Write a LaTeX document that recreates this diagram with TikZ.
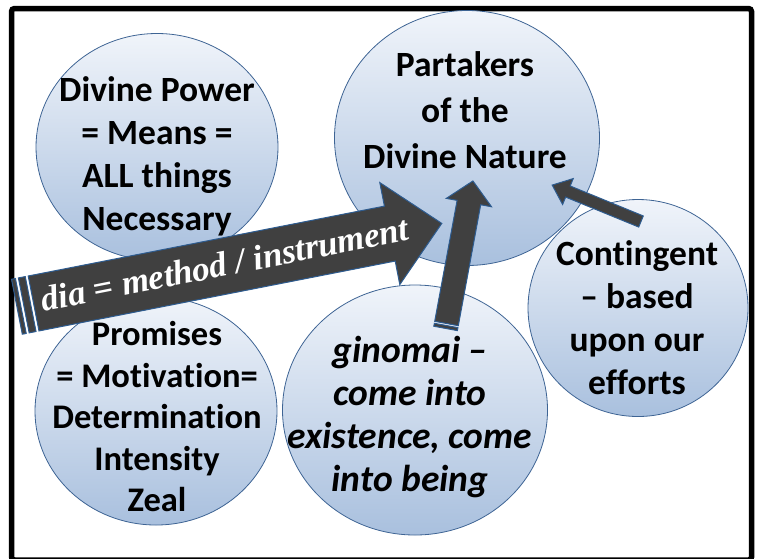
\documentclass[tikz,border=0pt]{standalone}
\usepackage{fontspec}
\setmainfont[Ligatures={TeX,NoCommon}]{Carlito}
\newfontfamily\serifit{Liberation Serif}
\usetikzlibrary{shapes.geometric}
\definecolor{bubbletop}{HTML}{F0F4FA}
\definecolor{bubblebot}{HTML}{A9C0DE}
\definecolor{bubbleline}{HTML}{3E6494}
\definecolor{arrowfill}{HTML}{404040}
\definecolor{arrowline}{HTML}{2E5C90}
\tikzset{
  bubble/.style  = {ellipse, draw=bubbleline, line width=0.8pt, inner sep=0pt,
                    top color=bubbletop, bottom color=bubblebot},
  btext/.style   = {font=\bfseries\fontsize{35.5}{43}\selectfont, align=center},
  diatext/.style = {font=\serifit\bfseries\itshape\fontsize{35}{40}\selectfont, text=white},
  barrow/.style  = {fill=arrowfill, draw=arrowline, line width=1pt, line join=miter},
}

\begin{document}
\begin{tikzpicture}[x=1pt,y=-1pt]
  \useasboundingbox (0,0) rectangle (759,558);
  \clip (0,0) rectangle (759,558);
  \draw[line width=5.5pt, rounded corners=3pt] (11.5,8.5) rectangle (751.5,560);

  \node[bubble, minimum width=242pt, minimum height=227pt] (power) at (157,147) {};
  \node[bubble, minimum width=265pt, minimum height=255pt] (nature) at (467,138) {};
  \node[bubble, minimum width=242pt, minimum height=228pt] (promise) at (156,411) {};
  \node[bubble, minimum width=265pt, minimum height=250pt] (ginomai) at (415,410) {};
  \node[bubble, minimum width=220pt, minimum height=217pt] (contingent) at (638,308) {};

  \node[btext] (powertxt) at (157,156) {Divine Power\\= Means =\\ALL things\\Necessary};
  \node[btext, font=\bfseries\fontsize{35.5}{46}\selectfont] (naturetxt) at (465,110)
    {Partakers\\of the\\Divine Nature};
  \node[btext, font=\bfseries\fontsize{34.5}{41.5}\selectfont] (promisetxt) at (157,417)
    {Promises\\= Motivation=\\Determination\\Intensity\\Zeal};
  \node[btext, font=\bfseries\itshape\fontsize{37.5}{43}\selectfont] (ginomaitxt) at (410,417)
    {ginomai –\\come into\\existence, come\\into being};
  \node[btext] (contingenttxt) at (637,318) {Contingent\\– based\\upon our\\efforts};

  % dia arrow
  \coordinate (diatail) at (38.5,302.5);
  \begin{scope}[shift={(diatail)}, rotate=11.1]
    \draw[barrow] (-22,-28) rectangle (-18,28);
    \draw[barrow] (-15,-28) rectangle (-8,28);
    \draw[barrow] (-5,-28) -- (358,-28) -- (358,-52) -- (411,0) -- (358,52) -- (358,28) -- (-5,28) -- cycle;
    \node[diatext, transform shape, anchor=base] (dia) at (190,10) {dia = method / instrument};
  \end{scope}

  % ginomai arrow
  \coordinate (gintail) at (446.5,323.5);
  \begin{scope}[shift={(gintail)}, rotate=79.5]
    \draw[barrow] (-5,-12) rectangle (-2,12);
    \draw[barrow] (0,-12) -- (123,-12) -- (123,-23) -- (145,0) -- (123,23) -- (123,12) -- (0,12) -- cycle;
  \end{scope}

  % contingent arrow
  \coordinate (conttail) at (641,221.5);
  \begin{scope}[shift={(conttail)}, rotate=157.7]
    \draw[barrow] (0,-6) -- (79,-6) -- (79,-14) -- (96,0) -- (79,14) -- (79,6) -- (0,6) -- cycle;
  \end{scope}
\end{tikzpicture}
\end{document}
